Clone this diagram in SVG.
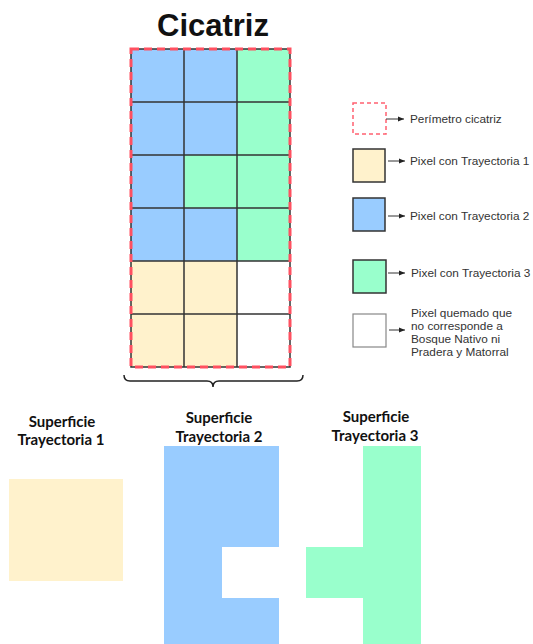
<svg xmlns="http://www.w3.org/2000/svg" width="533" height="644" viewBox="0 0 533 644">
<style>
.b{fill:#99CCFF}.g{fill:#99FFCC}.y{fill:#FFF2CC}.w{fill:#FFFFFF}
.grid{stroke:#333;stroke-width:1.5;fill:none}
.lg{stroke:#333;stroke-width:1.5}
.lbl{font-family:"Liberation Sans",Arial,sans-serif;font-size:11.8px;fill:#333}
.sub{font-family:Lato,"Liberation Sans",sans-serif;font-weight:bold;font-size:15px;fill:#111;text-anchor:middle}
.arr{stroke:#333;stroke-width:1;fill:none;marker-end:url(#ah)}
</style>
<defs>
<marker id="ah" viewBox="0 0 10 10" refX="10" refY="5" markerWidth="6" markerHeight="6" orient="auto" markerUnits="userSpaceOnUse"><path d="M0,1 L10,5 L0,9 z" fill="#222"/></marker>
</defs>
<rect width="533" height="644" fill="#fff"/>
<text x="213" y="36" font-family="Liberation Sans,Arial,sans-serif" font-weight="bold" font-size="31" text-anchor="middle" fill="#111">Cicatriz</text>
<g id="grid">
<rect class="b" x="131" y="49" width="53" height="53"/><rect class="b" x="184" y="49" width="53" height="53"/><rect class="g" x="237" y="49" width="53" height="53"/>
<rect class="b" x="131" y="102" width="53" height="53"/><rect class="b" x="184" y="102" width="53" height="53"/><rect class="g" x="237" y="102" width="53" height="53"/>
<rect class="b" x="131" y="155" width="53" height="53"/><rect class="g" x="184" y="155" width="53" height="53"/><rect class="g" x="237" y="155" width="53" height="53"/>
<rect class="b" x="131" y="208" width="53" height="53"/><rect class="b" x="184" y="208" width="53" height="53"/><rect class="g" x="237" y="208" width="53" height="53"/>
<rect class="y" x="131" y="261" width="53" height="53"/><rect class="y" x="184" y="261" width="53" height="53"/><rect class="w" x="237" y="261" width="53" height="53"/>
<rect class="y" x="131" y="314" width="53" height="53"/><rect class="y" x="184" y="314" width="53" height="53"/><rect class="w" x="237" y="314" width="53" height="53"/>
<path class="grid" d="M184,49V367M237,49V367M131,102H290M131,155H290M131,208H290M131,261H290M131,314H290"/>
<rect x="131" y="49" width="159" height="318" fill="none" stroke="#333" stroke-width="1.5"/>
<rect x="131" y="49" width="159" height="318" fill="none" stroke="#FF5060" stroke-width="3" stroke-dasharray="8,5"/>
</g>
<g id="brace">
<path d="M124,375 Q124,381 130,381 L207,381 Q213,381 213,387 Q213,381 219,381 L297,381 Q303,381 303,375" fill="none" stroke="#222" stroke-width="1.5"/>
</g>
<g id="legend-perimetro">
<rect x="353" y="103" width="33" height="31" fill="none" stroke="#FF6070" stroke-width="1.5" stroke-dasharray="4,3"/>
<text class="lbl" x="410" y="123">Perímetro cicatriz</text>
</g>
<g id="legend-t1">
<rect class="y lg" x="353" y="149" width="32" height="33"/>
<text class="lbl" x="410" y="165">Pixel con Trayectoria 1</text>
</g>
<g id="legend-t2">
<rect class="b lg" x="353" y="198" width="32" height="33"/>
<text class="lbl" x="410" y="220">Pixel con Trayectoria 2</text>
</g>
<g id="legend-t3">
<rect class="g lg" x="353" y="260" width="33" height="33"/>
<text class="lbl" x="411" y="277">Pixel con Trayectoria 3</text>
</g>
<g id="legend-w">
<rect x="353" y="314" width="33" height="33" fill="#fff" stroke="#888" stroke-width="1.2"/>
<text class="lbl" x="411" y="317">Pixel quemado que</text>
<text class="lbl" x="411" y="330">no corresponde a</text>
<text class="lbl" x="411" y="343">Bosque Nativo ni</text>
<text class="lbl" x="411" y="356">Pradera y Matorral</text>
</g>
<g id="connectors">
<line class="arr" x1="386" y1="119" x2="404" y2="119"/>
<line class="arr" x1="388" y1="161" x2="405" y2="161"/>
<line class="arr" x1="388" y1="216" x2="405" y2="216"/>
<line class="arr" x1="388" y1="273" x2="405" y2="273"/>
<line class="arr" x1="389" y1="330" x2="405" y2="330"/>
</g>
<g id="sup1">
<text class="sub" x="62" y="427">Superficie</text>
<text class="sub" x="61" y="445">Trayectoria 1</text>
<rect class="y" x="9" y="479" width="114" height="102"/>
</g>
<g id="sup2">
<text class="sub" x="219" y="423">Superficie</text>
<text class="sub" x="219" y="442">Trayectoria 2</text>
<path class="b" d="M164,446H279V547H222V598H279V644H164z"/>
</g>
<g id="sup3">
<text class="sub" x="376" y="422">Superficie</text>
<text class="sub" x="375" y="441">Trayectoria 3</text>
<path class="g" d="M363,446H421V644H363V598H306V547H363z"/>
</g>
</svg>
